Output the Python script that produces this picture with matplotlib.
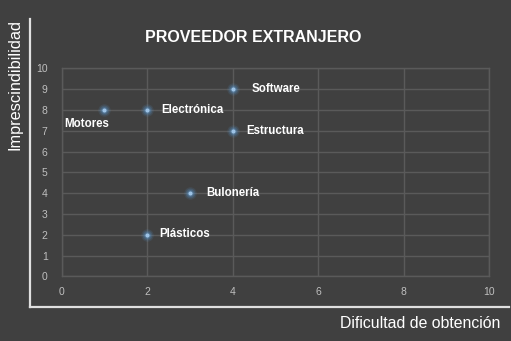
import matplotlib
matplotlib.use("Agg")
import matplotlib.pyplot as plt
from matplotlib.lines import Line2D

plt.rcParams['font.family'] = ['Liberation Sans', 'DejaVu Sans']

# Data
names = ["Motores", "Electrónica", "Software", "Estructura", "Bulonería", "Plásticos"]
dificultad = [1, 2, 4, 4, 3, 2]
imprescindibilidad = [8, 8, 9, 7, 4, 2]
ticks = [0, 2, 4, 6, 8, 10]
yticks = list(range(0, 11))

# label offsets in points (dx, dy) and horizontal alignment
label_offsets = {
    "Motores": (3.5, -10, 'right'),
    "Electrónica": (10.5, 0, 'left'),
    "Software": (14, 0, 'left'),
    "Estructura": (9.5, 0, 'left'),
    "Bulonería": (11.5, 0, 'left'),
    "Plásticos": (8.5, 0.5, 'left'),
}

BG = "#404040"
GRID = "#5a5a5a"
TICKC = "#bfbfbf"

fig = plt.figure(figsize=(5.11, 3.41), dpi=100, facecolor=BG)
W, H = 511, 341
x0, x1, y0, y1 = 61.5, 489.3, 68.3, 276.3
ax = fig.add_axes([x0 / W, 1 - y1 / H, (x1 - x0) / W, (y1 - y0) / H])
ax.set_facecolor(BG)
ax.set_xlim(0, 10)
ax.set_ylim(0, 10)
ax.set_xticks(ticks)
ax.set_yticks(yticks)
ax.grid(True, color=GRID, linewidth=1.0)
ax.set_axisbelow(True)
for s in ax.spines.values():
    s.set_color(GRID)
    s.set_linewidth(1.0)
ax.tick_params(colors=TICKC, labelsize=7.5, length=0, pad=8)
ax.tick_params(axis='y', pad=10)
for lab in ax.get_xticklabels() + ax.get_yticklabels():
    lab.set_color(TICKC)

# glowing markers
for size, alpha in [(9, 0.12), (7, 0.2), (5, 0.3)]:
    ax.plot(dificultad, imprescindibilidad, 'o', color="#5b9bd5", markersize=size,
            alpha=alpha, markeredgewidth=0, clip_on=False)
ax.plot(dificultad, imprescindibilidad, 'o', color="#9dc3e6", markersize=3,
        markeredgewidth=0, clip_on=False)

# point labels
for n, xv, yv in zip(names, dificultad, imprescindibilidad):
    dx, dy, ha = label_offsets[n]
    ax.annotate(n, (xv, yv), xytext=(dx, dy), textcoords='offset points',
                ha=ha, va='center', color='white', fontsize=8.3,
                fontweight='bold')

fig.text(253 / W, 1 - 37 / H, "PROVEEDOR EXTRANJERO", ha='center', va='center',
         color='white', fontsize=11.5, fontweight='bold')

# outer frame lines
fig.add_artist(Line2D([30 / W, 30 / W], [1 - 19 / H, 1 - 307 / H], color='#e0e0e0', lw=1.6))
fig.add_artist(Line2D([30 / W, 509 / W], [1 - 307 / H, 1 - 307 / H], color='#e0e0e0', lw=1.6))

fig.text(15 / W, 1 - 85 / H, "Imprescindibilidad", rotation=90, ha='center', va='center',
         color='white', fontsize=11.7)
fig.text(500 / W, 1 - 324 / H, "Dificultad de obtención", ha='right', va='center',
         color='white', fontsize=11.4)

fig.savefig("out.png", dpi=100, facecolor=BG)
